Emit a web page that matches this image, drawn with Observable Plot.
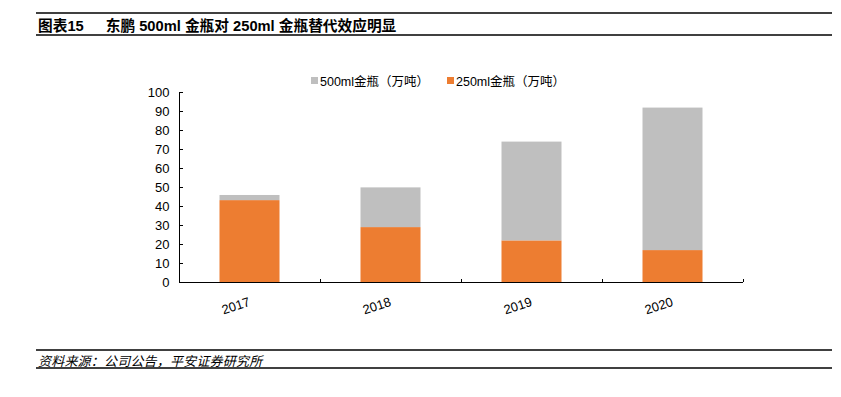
<!DOCTYPE html>
<html>
<head>
<meta charset="utf-8">
<script src="https://cdn.jsdelivr.net/npm/d3@7"></script>
<script src="https://cdn.jsdelivr.net/npm/@observablehq/plot@0.6"></script>
<style>
  html, body { margin: 0; padding: 0; background: #fff; }
  body { width: 841px; height: 397px; position: relative; overflow: hidden;
         font-family: "Liberation Sans", Arial, "Noto Sans CJK SC", sans-serif; color: #000; }
  .hline { position: absolute; left: 36px; width: 796px; background: #404040; }
  #title { position: absolute; left: 38px; top: 14px; font-size: 14.7px; font-weight: bold; white-space: nowrap; }
  #title .num { margin-right: 22px; }
  #legend { position: absolute; top: 71px; left: 311px; font-size: 12.5px; white-space: nowrap; z-index: 2; }
  #legend .item { position: absolute; top: 0; }
  #legend .sw { position: absolute; top: 6px; width: 7px; height: 7px; }
  #legend .lb { position: absolute; left: 9px; top: 0; }
  #chart { position: absolute; left: 0; top: 40px; z-index: 1; }
  #source { position: absolute; left: 38px; top: 351px; font-size: 13px; font-style: italic; letter-spacing: 0.2px; white-space: nowrap; }
</style>
</head>
<body>
<div class="hline" style="top:12px;height:2px"></div>
<div id="title"><span class="num">图表15</span>东鹏 500ml 金瓶对 250ml 金瓶替代效应明显</div>
<div class="hline" style="top:34px;height:2px"></div>
<div id="chart"></div>
<div id="legend"></div>
<div class="hline" style="top:349px;height:1.5px"></div>
<div id="source">资料来源：公司公告，平安证券研究所</div>
<div class="hline" style="top:367px;height:1.5px"></div>
<script>
const years = ["2017", "2018", "2019", "2020"];
const seriesNames = ["250ml金瓶（万吨）", "500ml金瓶（万吨）"];
const v250 = [43.1, 28.9, 21.9, 16.8];
const v500 = [2.7, 20.9, 52.0, 75.0];
const yTicks = [0, 10, 20, 30, 40, 50, 60, 70, 80, 90, 100];
const colors = ["#ED7D31", "#BFBFBF"];

const rows = [];
years.forEach((yr, i) => {
  rows.push({year: yr, series: seriesNames[0], value: v250[i]});
  rows.push({year: yr, series: seriesNames[1], value: v500[i]});
});

// legend (HTML, above the SVG)
const legend = document.getElementById("legend");
const legendOrder = [1, 0];
const legendOffsets = [0, 136];
legendOrder.forEach((k, j) => {
  const it = document.createElement("div");
  it.className = "item";
  it.style.left = legendOffsets[j] + "px";
  it.innerHTML = `<span class="sw" style="background:${colors[k]}"></span><span class="lb">${seriesNames[k]}</span>`;
  legend.appendChild(it);
});

const W = 841, H = 300, ML = 179, MR = 98, MT = 52, MB = 58;
const bw = (W - ML - MR) / years.length;
const barW = 60;
const inset = (bw - barW) / 2;

const chart = Plot.plot({
  width: W, height: H,
  marginLeft: ML, marginRight: MR, marginTop: MT, marginBottom: MB,
  style: {fontFamily: "Liberation Sans, Arial, sans-serif", fontSize: "13px", color: "#000", background: "white"},
  x: {type: "band", domain: years, padding: 0, axis: null, label: null},
  y: {domain: [0, 100], axis: null, label: null},
  color: {domain: seriesNames, range: colors},
  marks: [
    Plot.barY(rows, {x: "year", y: "value", fill: "series", insetLeft: inset, insetRight: inset}),
    // y axis labels
    Plot.axisY({ticks: yTicks, tickSize: 0, tickPadding: 10, fontSize: 13, label: null}),
    // y axis inner ticks
    Plot.axisY({ticks: yTicks, tickSize: 4, dx: 4, tickFormat: () => "", stroke: "#000", label: null}),
    // y axis line
    Plot.ruleX([years[0]], {x: d => d, dx: -bw / 2, stroke: "#000", strokeWidth: 1}),
    // x axis line
    Plot.ruleY([0], {stroke: "#000", strokeWidth: 1.2}),
    // x boundary ticks
    Plot.ruleX(years, {x: d => d, dx: bw / 2, insetTop: H - MT - MB - 3, stroke: "#000"}),
    // x labels
    Plot.text(years, {x: d => d, text: d => d, frameAnchor: "bottom", textAnchor: "end", lineAnchor: "bottom", rotate: -18, dy: 23, dx: 1, fontSize: 13, fill: "#000"})
  ]
});
document.getElementById("chart").appendChild(chart);
</script>
</body>
</html>
